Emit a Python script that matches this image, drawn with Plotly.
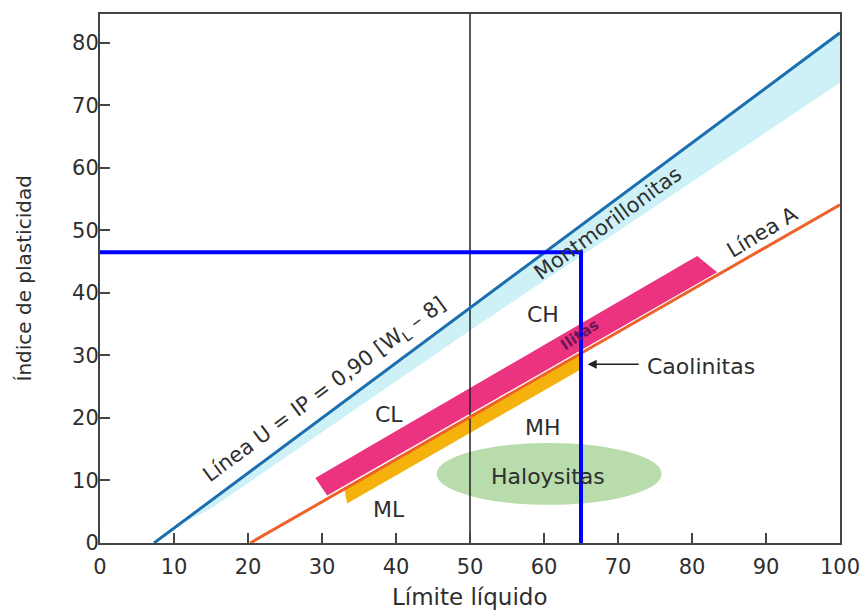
import plotly.graph_objects as go

# ---- data ----
x_ticks = [0, 10, 20, 30, 40, 50, 60, 70, 80, 90, 100]
y_ticks = [0, 10, 20, 30, 40, 50, 60, 70, 80]

u_line_ll = [7.3, 100]
u_line_ip = [0, 81.6]

a_line_ll = [20.3, 100]
a_line_ip = [0, 54.1]

mont_ll = [10, 100, 100, 50, 15]
mont_ip = [2.4, 81.6, 73.6, 34.0, 5.5]

illite_ll = [29.1, 80.7, 83.4, 30.7]
illite_ip = [10.4, 45.9, 43.3, 7.6]

kaol_ll = [33.0, 65.0, 65.0, 33.4]
kaol_ip = [8.7, 30.4, 27.8, 6.3]

halo_ll_range = [45.5, 75.9]
halo_ip_range = [6.1, 16.0]

divider_ll = 50

sample_ll = [0, 65, 65]
sample_ip = [46.5, 46.5, 0]

labels = ["CH", "CL", "MH", "ML", "Haloysitas"]
labels_ll = [59.9, 39.0, 59.9, 39.0, 60.5]
labels_ip = [36.5, 20.5, 18.4, 5.3, 10.6]

FONT = "DejaVu Sans"
TXT = "#2e2e2e"

fig = go.Figure()

# Montmorillonite band
fig.add_trace(go.Scatter(x=mont_ll, y=mont_ip, fill="toself", mode="lines",
                         line=dict(width=0), fillcolor="rgba(198,238,246,0.85)",
                         hoverinfo="skip", showlegend=False))
# Illite band
fig.add_trace(go.Scatter(x=illite_ll, y=illite_ip, fill="toself", mode="lines",
                         line=dict(width=0), fillcolor="#ec3380",
                         hoverinfo="skip", showlegend=False))
# Kaolinite band
fig.add_trace(go.Scatter(x=kaol_ll, y=kaol_ip, fill="toself", mode="lines",
                         line=dict(width=0), fillcolor="#f6b20c",
                         hoverinfo="skip", showlegend=False))
# Divider LL = 50
fig.add_trace(go.Scatter(x=[divider_ll, divider_ll], y=[0, 100], mode="lines",
                         line=dict(color="#222222", width=1.5),
                         hoverinfo="skip", showlegend=False))
# U-line
fig.add_trace(go.Scatter(x=u_line_ll, y=u_line_ip, mode="lines",
                         line=dict(color="#1c6fae", width=3),
                         hoverinfo="skip", showlegend=False))
# A-line
fig.add_trace(go.Scatter(x=a_line_ll, y=a_line_ip, mode="lines",
                         line=dict(color="#ee6228", width=3),
                         hoverinfo="skip", showlegend=False))
# Sample (blue) lines
fig.add_trace(go.Scatter(x=sample_ll, y=sample_ip, mode="lines",
                         line=dict(color="#0000ff", width=4),
                         hoverinfo="skip", showlegend=False))

# Halloysite ellipse
fig.add_shape(type="circle", xref="x", yref="y",
              x0=halo_ll_range[0], x1=halo_ll_range[1],
              y0=halo_ip_range[0], y1=halo_ip_range[1],
              fillcolor="#b8dcac", line=dict(width=0), layer="below")

for t, xx, yy in zip(labels, labels_ll, labels_ip):
    fig.add_annotation(x=xx, y=yy, text=t, showarrow=False,
                       font=dict(family=FONT, size=22, color=TXT))

fig.add_annotation(x=30.4, y=24.5, text="Línea U = IP = 0,90 [W<sub>L</sub> – 8]",
                   showarrow=False, textangle=-36.5,
                   font=dict(family=FONT, size=21, color=TXT))
fig.add_annotation(x=68.7, y=51.1, text="Montmorillonitas", showarrow=False,
                   textangle=-36, font=dict(family=FONT, size=21, color=TXT))
fig.add_annotation(x=89.5, y=49.8, text="Línea A", showarrow=False,
                   textangle=-31, font=dict(family=FONT, size=21, color=TXT))
fig.add_annotation(x=64.8, y=33.2, text="<b>Ilitas</b>", showarrow=False,
                   textangle=-34, font=dict(family=FONT, size=15, color="#6e1458"))

# Caolinitas arrow and label
fig.add_annotation(x=65.9, y=28.6, ax=73.0, ay=28.6, axref="x", ayref="y",
                   xref="x", yref="y", text="", showarrow=True,
                   arrowhead=2, arrowsize=1.2, arrowwidth=1.5, arrowcolor="#222222")
fig.add_annotation(x=73.6, y=28.3, text="Caolinitas", showarrow=False,
                   xanchor="left", font=dict(family=FONT, size=22, color=TXT))

# Axis titles
fig.add_annotation(x=0.5, y=0, xref="paper", yref="paper", yshift=-54,
                   xanchor="center", yanchor="middle",
                   text="Límite líquido", showarrow=False,
                   font=dict(family=FONT, size=23, color=TXT))
fig.add_annotation(x=0, y=0.5, xref="paper", yref="paper", xshift=-77,
                   xanchor="center", yanchor="middle",
                   text="Índice de plasticidad", showarrow=False, textangle=-90,
                   font=dict(family=FONT, size=20, color=TXT))

axis_common = dict(showline=True, linecolor="#444444", linewidth=2, mirror=True,
                   ticks="inside", ticklen=10, tickwidth=2, tickcolor="#444444",
                   showgrid=False, zeroline=False, automargin=False,
                   tickfont=dict(family=FONT, size=21, color=TXT))

fig.update_xaxes(range=[0, 100], tickvals=x_ticks, ticktext=[str(v) for v in x_ticks],
                 ticklabelstandoff=4, **axis_common)
fig.update_yaxes(range=[0, 84.6], tickvals=y_ticks, ticktext=[str(v) for v in y_ticks],
                 ticklabelstandoff=-5, **axis_common)

fig.update_layout(width=866, height=611, plot_bgcolor="white", paper_bgcolor="white",
                  margin=dict(l=100, r=26, t=14, b=68), showlegend=False)

fig.write_html("out.html", config={"displayModeBar": False},
               post_script="document.body.style.margin='0';")
